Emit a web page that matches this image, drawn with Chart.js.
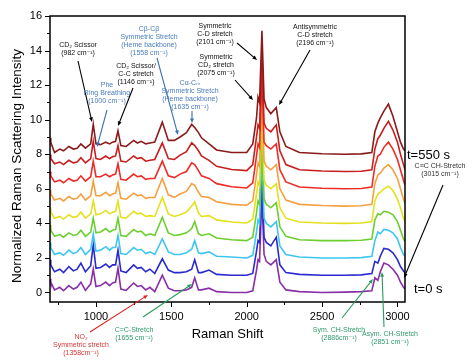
<!DOCTYPE html>
<html>
<head>
<meta charset="utf-8">
<script src="https://cdn.jsdelivr.net/npm/chart.js@4.4.1/dist/chart.umd.min.js"></script>
<style>
  html, body { margin: 0; padding: 0; background: #fff; }
  canvas { display: block; }
</style>
</head>
<body>
<canvas id="ramanChart" width="474" height="364"></canvas>
<script>
// Raman shift grid (cm-1) shared by every spectrum
const wavenumbers = [695, 700, 725, 760, 785, 820, 850, 875, 900, 930,
    965, 982, 1000, 1030, 1065, 1090, 1110, 1130, 1146, 1165,
    1200, 1250, 1275, 1300, 1330, 1358, 1390, 1440, 1480, 1520,
    1558, 1600, 1635, 1655, 1680, 1700, 1750, 1800, 1900, 2000,
    2040, 2065, 2075, 2085, 2101, 2115, 2130, 2160, 2196, 2220,
    2260, 2350, 2500, 2650, 2760, 2830, 2850, 2870, 2886, 2910,
    2940, 2970, 3000, 3020, 3040, 3050];

// stacked spectra, bottom (t=0 s) to top (t=550 s)
const traceViolet = [0.8, 0.6, 0.15, 0.3, 0.1, 0.4, 0.2, 0.3, 0.6, 0.12,
    0.5, 1.35, 0.35, 0.4, 0.6, 0.4, 0.55, 0.6, 1.4, 0.2,
    0.12, 0.55, 0.35, 0.4, 0.15, 0.3, 0.05, 1.0, 0.25, 0.1,
    0.1, 0.15, 0.3, 0.85, 0.15, 0.15, 0.25, 0.05, 0.0, 0.0,
    0.1, 1.3, 1.9, 1.8, 5.6, 2.2, 1.8, 1.6, 1.9, 0.6,
    0.15, 0.05, 0.0, 0.02, 0.05, 0.1, 0.85, 0.7, 1.2, 1.7,
    1.6, 1.35, 1.0, 0.6, 0.3, 0.2];
const traceBlue = [1.9, 1.6, 1.2, 1.35, 1.15, 1.5, 1.25, 1.35, 1.7, 1.2,
    1.55, 2.75, 1.4, 1.45, 1.65, 1.45, 1.6, 1.6, 2.45, 1.25,
    1.15, 1.6, 1.4, 1.45, 1.2, 1.35, 1.1, 1.95, 1.3, 1.15,
    1.15, 1.2, 1.35, 1.9, 1.15, 1.15, 1.3, 1.05, 1.0, 1.0,
    1.1, 2.4, 3.0, 2.9, 6.7, 3.2, 2.9, 2.7, 3.2, 1.6,
    1.15, 1.05, 1.0, 1.0, 1.02, 1.1, 1.8, 1.7, 2.1, 2.55,
    2.5, 2.3, 1.9, 1.5, 1.25, 1.15];
const traceCyan = [2.9, 2.6, 2.2, 2.3, 2.15, 2.45, 2.25, 2.35, 2.6, 2.2,
    2.5, 3.4, 2.4, 2.45, 2.65, 2.45, 2.6, 2.6, 3.3, 2.25,
    2.2, 2.6, 2.45, 2.5, 2.25, 2.35, 2.2, 3.1, 2.35, 2.2,
    2.2, 2.3, 2.5, 3.0, 2.3, 2.25, 2.35, 2.1, 2.05, 2.0,
    2.15, 3.5, 4.2, 4.0, 7.9, 4.3, 4.0, 3.8, 4.1, 2.7,
    2.2, 2.05, 2.0, 2.0, 2.02, 2.1, 3.0, 3.5, 3.4, 3.65,
    3.6, 3.45, 3.1, 2.6, 2.2, 2.1];
const traceGreen = [3.9, 3.6, 3.25, 3.35, 3.2, 3.45, 3.3, 3.35, 3.6, 3.25,
    3.5, 4.3, 3.45, 3.5, 3.7, 3.5, 3.6, 3.65, 4.3, 3.3,
    3.25, 3.65, 3.5, 3.55, 3.3, 3.4, 3.3, 4.35, 3.45, 3.3,
    3.35, 3.45, 3.7, 4.1, 3.4, 3.3, 3.4, 3.15, 3.05, 3.0,
    3.2, 4.6, 5.3, 5.1, 9.1, 5.4, 5.1, 4.9, 5.2, 3.8,
    3.25, 3.05, 3.0, 3.0, 3.02, 3.1, 4.2, 4.55, 4.5, 4.7,
    4.65, 4.5, 4.1, 3.6, 3.1, 2.95];
const traceYellow = [4.9, 4.65, 4.3, 4.4, 4.25, 4.5, 4.35, 4.4, 4.65, 4.3,
    4.55, 5.3, 4.5, 4.55, 4.75, 4.55, 4.65, 4.7, 5.3, 4.35,
    4.3, 4.7, 4.55, 4.6, 4.4, 4.45, 4.4, 5.5, 4.55, 4.4,
    4.5, 4.65, 5.0, 5.25, 4.6, 4.4, 4.45, 4.2, 4.08, 4.02,
    4.25, 5.7, 6.4, 6.2, 10.3, 6.5, 6.2, 6.0, 6.3, 4.9,
    4.3, 4.08, 4.02, 4.0, 4.02, 4.1, 5.3, 5.7, 5.8, 6.0,
    6.15, 5.9, 5.4, 4.9, 4.3, 4.1];
const traceOrange = [5.95, 5.7, 5.35, 5.45, 5.3, 5.55, 5.4, 5.45, 5.7, 5.35,
    5.6, 6.45, 5.6, 5.6, 5.8, 5.6, 5.7, 5.75, 6.35, 5.45,
    5.4, 5.75, 5.6, 5.65, 5.45, 5.5, 5.5, 6.6, 5.65, 5.5,
    5.7, 5.85, 6.3, 6.2, 5.8, 5.55, 5.5, 5.25, 5.1, 5.05,
    5.3, 6.8, 7.5, 7.3, 11.5, 7.6, 7.3, 7.1, 7.4, 6.0,
    5.35, 5.1, 5.03, 5.0, 5.02, 5.1, 6.3, 6.8, 6.9, 7.2,
    7.4, 7.1, 6.6, 6.0, 5.4, 5.15];
const traceRed = [7.0, 6.75, 6.4, 6.5, 6.35, 6.6, 6.45, 6.5, 6.75, 6.45,
    6.7, 7.6, 6.7, 6.7, 6.85, 6.7, 6.8, 6.85, 7.45, 6.55,
    6.5, 6.85, 6.7, 6.75, 6.55, 6.6, 6.6, 7.6, 6.75, 6.65,
    6.85, 7.0, 7.5, 7.4, 7.05, 6.75, 6.6, 6.3, 6.12, 6.05,
    6.35, 7.9, 8.6, 8.4, 12.6, 8.7, 8.5, 8.3, 8.6, 7.1,
    6.4, 6.1, 6.03, 6.0, 6.02, 6.1, 7.3, 7.9, 8.0, 8.4,
    8.7, 8.3, 7.7, 7.1, 6.5, 6.2];
const traceCrimson = [8.0, 7.75, 7.45, 7.55, 7.4, 7.65, 7.5, 7.55, 7.8, 7.5,
    7.75, 8.75, 7.75, 7.7, 7.9, 7.75, 7.85, 7.9, 8.5, 7.6,
    7.55, 7.9, 7.75, 7.8, 7.6, 7.65, 7.7, 8.66, 7.75, 7.7,
    7.95, 8.15, 8.66, 8.5, 8.2, 7.9, 7.65, 7.3, 7.12, 7.05,
    7.4, 9.0, 9.7, 9.5, 13.8, 9.8, 9.5, 9.3, 9.7, 8.2,
    7.4, 7.1, 7.03, 7.0, 7.02, 7.1, 8.3, 8.9, 9.1, 9.5,
    9.9, 9.4, 8.7, 8.0, 7.4, 7.1];
const traceMaroon = [8.95, 8.7, 8.1, 8.3, 8.2, 8.45, 8.3, 8.35, 8.6, 8.35,
    8.6, 9.73, 8.6, 8.55, 8.7, 8.6, 8.7, 8.75, 9.35, 8.5,
    8.45, 8.8, 8.65, 8.75, 8.6, 8.65, 8.7, 9.86, 8.8, 8.8,
    9.0, 9.25, 9.73, 9.55, 9.25, 8.95, 8.6, 8.25, 8.1, 8.1,
    8.6, 10.1, 11.3, 11.0, 15.15, 11.2, 10.7, 10.35, 10.7, 9.3,
    8.45, 8.1, 8.03, 8.0, 8.02, 8.1, 9.3, 9.8, 10.1, 10.5,
    10.9, 10.2, 9.3, 8.7, 8.3, 8.2];

const xTickValues = [750, 1000, 1250, 1500, 1750, 2000, 2250, 2500, 2750, 3000];
const yTickValues = [0, 1, 2, 3, 4, 5, 6, 7, 8, 9, 10, 11, 12, 13, 14, 15, 16];

const FONT = "'Liberation Sans', Arial, 'DejaVu Sans', sans-serif";

// top trace listed first so it is painted over the lower ones
const series = [
    { data: traceMaroon, color: "#8b1a1a" },
    { data: traceCrimson, color: "#c81e1e" },
    { data: traceRed, color: "#ee2b25" },
    { data: traceOrange, color: "#f5a040" },
    { data: traceYellow, color: "#e4e01c" },
    { data: traceGreen, color: "#6ccf2e" },
    { data: traceCyan, color: "#3ec6f0" },
    { data: traceBlue, color: "#2a2ad0" },
    { data: traceViolet, color: "#8a2ea8" }
];

// call-outs in canvas pixels: text lines, centre, colour, arrow from -> to
const notes = [
    { lines: ["CD\u2082 Scissor", "(982 cm\u207B\u00B9)"], x: 78, y: 45, color: "#111", arrow: [78, 61, 92, 122], arrowColor: "#000" },
    { lines: ["Phe", "Ring Breathing", "(1000 cm\u207B\u00B9)"], x: 107, y: 85, color: "#4a7ebb", arrow: [107, 110, 97, 147], arrowColor: "#3a70b0" },
    { lines: ["CD\u2082 Scissor/", "C-C stretch", "(1146 cm\u207B\u00B9)"], x: 136, y: 66, color: "#111", arrow: [133, 88, 118, 126], arrowColor: "#000" },
    { lines: ["C\u03B2-C\u03B2", "Symmetric Stretch", "(Heme backbone)", "(1558 cm\u207B\u00B9)"], x: 149, y: 29, color: "#4a7ebb", arrow: [157, 58, 178, 135], arrowColor: "#3a70b0" },
    { lines: ["C\u03B1-C\u2098", "Symmetric Stretch", "(Heme backbone)", "(1635 cm\u207B\u00B9)"], x: 190, y: 83, color: "#4a7ebb", arrow: [192, 111, 192, 123], arrowColor: "#3a70b0" },
    { lines: ["Symmetric", "C-D stretch", "(2101 cm\u207B\u00B9)"], x: 215, y: 26, color: "#111", arrow: [237, 43, 257, 60], arrowColor: "#000" },
    { lines: ["Symmetric", "CD\u2082 stretch", "(2075 cm\u207B\u00B9)"], x: 216, y: 57, color: "#111", arrow: [235, 80, 253, 100], arrowColor: "#000" },
    { lines: ["Antisymmetric", "C-D stretch", "(2196 cm\u207B\u00B9)"], x: 315, y: 27, color: "#111", arrow: [310, 50, 279, 105], arrowColor: "#000" },
    { lines: ["C\u2261C CH-Stretch", "(3015 cm\u207B\u00B9)"], x: 440, y: 166, color: "#333", arrow: [443, 185, 404, 278], arrowColor: "#000" },
    { lines: ["NO\u2082", "Symmetric stretch", "(1358cm\u207B\u00B9)"], x: 81, y: 337, color: "#d83a3a", arrow: [90, 332, 148, 295], arrowColor: "#e02020" },
    { lines: ["C=C-Stretch", "(1655 cm\u207B\u00B9)"], x: 134, y: 330, color: "#2e9a6a", arrow: [143, 317, 192, 284], arrowColor: "#2a9a5a" },
    { lines: ["Sym. CH-Stretch", "(2886cm\u207B\u00B9)"], x: 339, y: 330, color: "#2e9a6a", arrow: [342, 318, 373, 279], arrowColor: "#2a9a5a" },
    { lines: ["Asym. CH-Stretch", "(2851 cm\u207B\u00B9)"], x: 390, y: 334, color: "#2e9a6a", arrow: [384, 327, 382, 272], arrowColor: "#2a9a5a" }
];

function drawArrow(ctx, x1, y1, x2, y2, color) {
    const ang = Math.atan2(y2 - y1, x2 - x1);
    const head = 5;
    ctx.strokeStyle = color;
    ctx.fillStyle = color;
    ctx.lineWidth = 1.1;
    ctx.beginPath();
    ctx.moveTo(x1, y1);
    ctx.lineTo(x2 - Math.cos(ang) * head * 0.8, y2 - Math.sin(ang) * head * 0.8);
    ctx.stroke();
    ctx.beginPath();
    ctx.moveTo(x2, y2);
    ctx.lineTo(x2 - head * Math.cos(ang - 0.4), y2 - head * Math.sin(ang - 0.4));
    ctx.lineTo(x2 - head * Math.cos(ang + 0.4), y2 - head * Math.sin(ang + 0.4));
    ctx.closePath();
    ctx.fill();
}

const frameAndNotes = {
    id: "frameAndNotes",
    afterDraw(chart) {
        const { ctx, chartArea: a, scales } = chart;
        ctx.save();
        ctx.strokeStyle = "#000";
        ctx.lineWidth = 1;
        xTickValues.forEach((v) => {
            const px = Math.round(scales.x.getPixelForValue(v)) + 0.5;
            const len = v % 500 === 0 ? 5 : 3;
            ctx.beginPath();
            ctx.moveTo(px, a.bottom);
            ctx.lineTo(px, a.bottom + len);
            ctx.stroke();
        });
        yTickValues.forEach((v) => {
            const py = Math.round(scales.y.getPixelForValue(v)) + 0.5;
            const len = v % 2 === 0 ? 5 : 3;
            ctx.beginPath();
            ctx.moveTo(a.left, py);
            ctx.lineTo(a.left - len, py);
            ctx.stroke();
        });
        ctx.lineWidth = 1.5;
        ctx.strokeRect(a.left, a.top, a.right - a.left, a.bottom - a.top);

        // y-axis title, sitting a little below the plot centre as in the original
        ctx.save();
        ctx.translate(17, 166);
        ctx.rotate(-Math.PI / 2);
        ctx.fillStyle = "#000";
        ctx.textAlign = "center";
        ctx.textBaseline = "middle";
        ctx.font = `13.5px ${FONT}`;
        ctx.fillText("Normalized Raman Scattering Intensity", 0, 0);
        ctx.restore();

        ctx.textAlign = "center";
        ctx.textBaseline = "middle";
        ctx.font = `7px ${FONT}`;
        notes.forEach((n) => {
            ctx.fillStyle = n.color;
            n.lines.forEach((t, i) => ctx.fillText(t, n.x, n.y + i * 8));
            const [x1, y1, x2, y2] = n.arrow;
            drawArrow(ctx, x1, y1, x2, y2, n.arrowColor);
        });

        ctx.fillStyle = "#000";
        ctx.textAlign = "left";
        ctx.font = `13px ${FONT}`;
        ctx.fillText("t=550 s", 407, 155);
        ctx.fillText("t=0 s", 414, 289);
        ctx.restore();
    }
};

document.addEventListener("DOMContentLoaded", () => {
    const canvas = document.getElementById("ramanChart");
    new Chart(canvas, {
        type: "line",
        data: {
            labels: wavenumbers,
            datasets: series.map((s) => ({
                data: s.data.map((v, i) => ({ x: wavenumbers[i], y: v })),
                borderColor: s.color,
                backgroundColor: s.color,
                borderWidth: 1.6,
                pointRadius: 0,
                tension: 0,
                fill: false
            }))
        },
        options: {
            responsive: false,
            animation: false,
            devicePixelRatio: 1,
            layout: { padding: { top: 16, right: 69, left: 0, bottom: 0 } },
            plugins: { legend: { display: false }, tooltip: { enabled: false } },
            scales: {
                x: {
                    type: "linear",
                    min: 695,
                    max: 3050,
                    afterBuildTicks: (axis) => { axis.ticks = xTickValues.map((v) => ({ value: v })); },
                    afterFit: (scale) => { scale.height = 62; },
                    border: { display: false },
                    grid: { drawOnChartArea: false, tickLength: 5, tickColor: "rgba(0,0,0,0)" },
                    ticks: {
                        autoSkip: false,
                        maxRotation: 0,
                        padding: 3,
                        color: "#000",
                        font: { family: FONT, size: 11 },
                        callback: (v) => (v % 500 === 0 ? String(v) : "")
                    },
                    title: {
                        display: true,
                        text: "Raman Shift",
                        color: "#000",
                        font: { family: FONT, size: 13 },
                        padding: { top: 0, bottom: 22 }
                    }
                },
                y: {
                    min: -0.55,
                    max: 16,
                    afterBuildTicks: (axis) => { axis.ticks = yTickValues.map((v) => ({ value: v })); },
                    afterFit: (scale) => { scale.width = 50; },
                    border: { display: false },
                    grid: { drawOnChartArea: false, tickLength: 5, tickColor: "rgba(0,0,0,0)" },
                    ticks: {
                        autoSkip: false,
                        padding: 3,
                        color: "#000",
                        font: { family: FONT, size: 11 },
                        callback: (v) => (v % 2 === 0 ? String(v) : "")
                    }
                }
            }
        },
        plugins: [frameAndNotes]
    });
});
</script>
</body>
</html>
